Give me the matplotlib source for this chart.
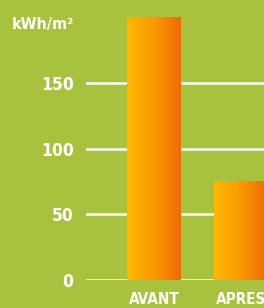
import matplotlib
matplotlib.use("Agg")
import matplotlib.pyplot as plt
import numpy as np
from matplotlib.colors import LinearSegmentedColormap

categories = ["AVANT", "APRES"]
values = [200, 75]
yticks = [0, 50, 100, 150]
unit_label = "kWh/m²"

BG = "#a9c23d"
FONT = ["DejaVu Sans"]

W, H = 264, 308
fig = plt.figure(figsize=(W / 100, H / 100), dpi=100, facecolor=BG)
left_px, right_px = 86, 264
bottom_px, top_px = 280, 4
ax = fig.add_axes([left_px / W, (H - bottom_px) / H,
                   (right_px - left_px) / W, (bottom_px - top_px) / H])
ax.set_facecolor(BG)
for s in ax.spines.values():
    s.set_visible(False)

for t in yticks:
    ax.axhline(t, color="white", lw=1.8, zorder=1)

cmap = LinearSegmentedColormap.from_list("g", ["#ffb800", "#f99a00", "#f06a08"])
grad = np.linspace(0, 1, 256).reshape(1, -1)
xs = np.arange(len(categories))
bars = ax.bar(xs, values, width=0.62, color="none", zorder=2)
for b in bars:
    x0, w, h = b.get_x(), b.get_width(), b.get_height()
    im = ax.imshow(grad, cmap=cmap, aspect="auto", extent=[x0, x0 + w, 0, h],
                   zorder=2, interpolation="bilinear")
    im.set_clip_path(b)
ax.set_xlim(-0.782, 1.264)
ax.set_ylim(0, 210)

ax.set_yticks(yticks)
ax.set_yticklabels([str(t) for t in yticks], fontfamily=FONT, fontweight="bold",
                   fontstretch="condensed", fontsize=12.5, color="white")
ax.tick_params(axis="y", length=0, pad=9)
ax.set_xticks(xs)
ax.set_xticklabels(categories, fontfamily=FONT, fontweight="bold",
                   fontstretch="condensed", fontsize=11, color="white")
ax.tick_params(axis="x", length=0, pad=9)

fig.text(12 / W, 1 - 24 / H, unit_label, fontfamily=FONT, fontweight="bold",
         fontstretch="condensed", fontsize=11.5, color="white", va="center", ha="left")

fig.savefig("out.png", dpi=100, facecolor=BG)
